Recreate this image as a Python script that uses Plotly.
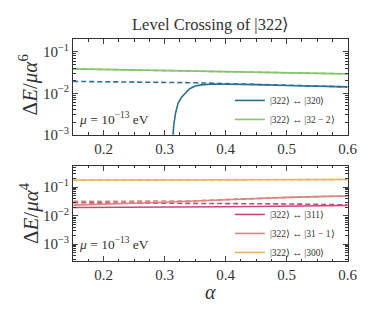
import plotly.graph_objects as go

# ---------------- data ----------------
# Top panel (ΔE / μ α^6)
alpha_320 = [0.3135, 0.315, 0.318, 0.322, 0.328, 0.335, 0.341, 0.35, 0.36, 0.38, 0.40, 0.45, 0.50, 0.55, 0.60]
exact_320 = [0.0009, 0.0018, 0.0034, 0.0058, 0.0082, 0.0108, 0.0129, 0.0150, 0.0160, 0.0168, 0.0168, 0.0162, 0.0155, 0.0149, 0.0143]
alpha_grid = [0.15, 0.20, 0.25, 0.30, 0.35, 0.40, 0.45, 0.50, 0.55, 0.60]
approx_320 = [0.0194, 0.0192, 0.0190, 0.0186, 0.0180, 0.0172, 0.0164, 0.0156, 0.0149, 0.0143]
exact_32m2 = [0.0390, 0.0377, 0.0365, 0.0353, 0.0342, 0.0332, 0.0322, 0.0312, 0.0303, 0.0295]
approx_32m2 = [0.0390, 0.0377, 0.0365, 0.0353, 0.0342, 0.0332, 0.0322, 0.0312, 0.0303, 0.0295]

# Bottom panel (ΔE / μ α^4)
exact_311 = [0.0195, 0.0195, 0.0196, 0.0198, 0.0201, 0.0205, 0.0210, 0.0216, 0.0222, 0.0228]
approx_311 = [0.0285, 0.0283, 0.0281, 0.0279, 0.0276, 0.0272, 0.0266, 0.0259, 0.0250, 0.0240]
exact_31m1 = [0.0235, 0.0250, 0.0268, 0.0295, 0.0330, 0.0370, 0.0408, 0.0440, 0.0468, 0.0490]
approx_31m1 = [0.0318, 0.0318, 0.0318, 0.0318, 0.0330, 0.0370, 0.0408, 0.0440, 0.0468, 0.0490]
exact_300 = [0.178, 0.179, 0.180, 0.181, 0.182, 0.183, 0.184, 0.185, 0.186, 0.187]
approx_300 = [0.174, 0.176, 0.178, 0.180, 0.181, 0.182, 0.183, 0.184, 0.185, 0.186]

xtick_vals = [0.2, 0.3, 0.4, 0.5, 0.6]
xtick_text = ["0.2", "0.3", "0.4", "0.5", "0.6"]
ytick_vals = [1e-3, 1e-2, 1e-1]
ytick_text = ["10<sup>−3</sup>", "10<sup>−2</sup>", "10<sup>−1</sup>"]

# ---------------- style ----------------
BLUE = "#2b6f96"
GREEN = "#86c56f"
MAGENTA = "#c9467f"
SALMON = "#d98680"
ORANGE = "#e8b462"
FONT = "Liberation Serif"
DASH = "5px,3px"

minor_y = [m * 10.0 ** e for e in range(-4, 1) for m in range(2, 10)]
minor_x = [0.15 + 0.025 * i for i in range(19)]

fig = go.Figure()

def add(x, y, color, name, dash=None, xa="x", ya="y", legend="legend", show=True):
    fig.add_trace(go.Scatter(
        x=x, y=y, mode="lines", name=name, showlegend=show, legend=legend,
        line=dict(color=color, width=1.6, dash=dash or "solid"),
        xaxis=xa, yaxis=ya))

# top
add(alpha_grid, approx_320, BLUE, "", DASH, show=False)
add(alpha_grid, approx_32m2, GREEN, "", DASH, show=False)
add(alpha_320, exact_320, BLUE, "|322⟩ ↔ |320⟩")
add(alpha_grid, exact_32m2, GREEN, "|322⟩ ↔ |32 − 2⟩")

# bottom
add(alpha_grid, approx_311, MAGENTA, "", DASH, "x2", "y2", "legend2", False)
add(alpha_grid, approx_31m1, SALMON, "", DASH, "x2", "y2", "legend2", False)
add(alpha_grid, approx_300, ORANGE, "", DASH, "x2", "y2", "legend2", False)
add(alpha_grid, exact_311, MAGENTA, "|322⟩ ↔ |311⟩", None, "x2", "y2", "legend2")
add(alpha_grid, exact_31m1, SALMON, "|322⟩ ↔ |31 − 1⟩", None, "x2", "y2", "legend2")
add(alpha_grid, exact_300, ORANGE, "|322⟩ ↔ |300⟩", None, "x2", "y2", "legend2")

xdom = [67 / 373, 349 / 373]
top_dom = [1 - 130 / 311, 1 - 32 / 311]
bot_dom = [1 - 260 / 311, 1 - 162 / 311]

def xaxis(anchor):
    return dict(domain=xdom, anchor=anchor, range=[0.15, 0.6], tickvals=xtick_vals, ticktext=xtick_text,
                ticks="inside", ticklen=5, tickwidth=1, mirror="allticks", showline=True,
                linecolor="#333", linewidth=1.2, showgrid=False, zeroline=False,
                tickfont=dict(size=15, family=FONT, color="#333"),
                minor=dict(tickvals=minor_x, ticks="inside", ticklen=2.5, tickwidth=0.8, tickcolor="#333"))

def yaxis(anchor, dom, rng):
    return dict(domain=dom, anchor=anchor, type="log", range=rng, tickvals=ytick_vals, ticktext=ytick_text,
                ticks="inside", ticklen=5, tickwidth=1, mirror="allticks", showline=True,
                linecolor="#333", linewidth=1.2, showgrid=False, zeroline=False,
                tickfont=dict(size=15, family=FONT, color="#333"),
                minor=dict(tickvals=minor_y, ticks="inside", ticklen=2.5, tickwidth=0.8, tickcolor="#333"))

leg_common = dict(bgcolor="rgba(0,0,0,0)", font=dict(size=9.5, family=FONT, color="#333"),
                  itemwidth=30, tracegroupgap=0, xanchor="left", yanchor="top")

def ann(text, x, y, size, xanchor="center", angle=0):
    return dict(text=text, x=x / 373, y=1 - y / 311, xref="paper", yref="paper",
                xanchor=xanchor, yanchor="middle", textangle=angle, showarrow=False,
                font=dict(size=size, family=FONT, color="#333"))

fig.update_layout(
    width=373, height=311, margin=dict(l=0, r=0, t=0, b=0),
    paper_bgcolor="white", plot_bgcolor="white",
    font=dict(family=FONT, color="#333"),
    xaxis=xaxis("y"), yaxis=yaxis("x", top_dom, [-3, -0.69]),
    xaxis2=xaxis("y2"), yaxis2=yaxis("x2", bot_dom, [-3.6, -0.25]),
    legend=dict(x=228 / 373, y=1 - 80 / 311, **leg_common),
    legend2=dict(x=228 / 373, y=1 - 197 / 311, **leg_common),
    annotations=[
        ann("Level Crossing of |322⟩", 208, 17, 16.5),
        ann("<i>μ</i> = 10<sup>−13</sup> eV", 71, 113, 13.5, "left"),
        ann("<i>μ</i> = 10<sup>−13</sup> eV", 71, 242, 13.5, "left"),
        ann("Δ<i>E</i>/<i>μα</i><sup>6</sup>", 22, 79, 21, angle=-90),
        ann("Δ<i>E</i>/<i>μα</i><sup>4</sup>", 22, 210, 21, angle=-90),
        ann("<i>α</i>", 208, 291, 20),
    ],
)

fig.write_html("out.html")
